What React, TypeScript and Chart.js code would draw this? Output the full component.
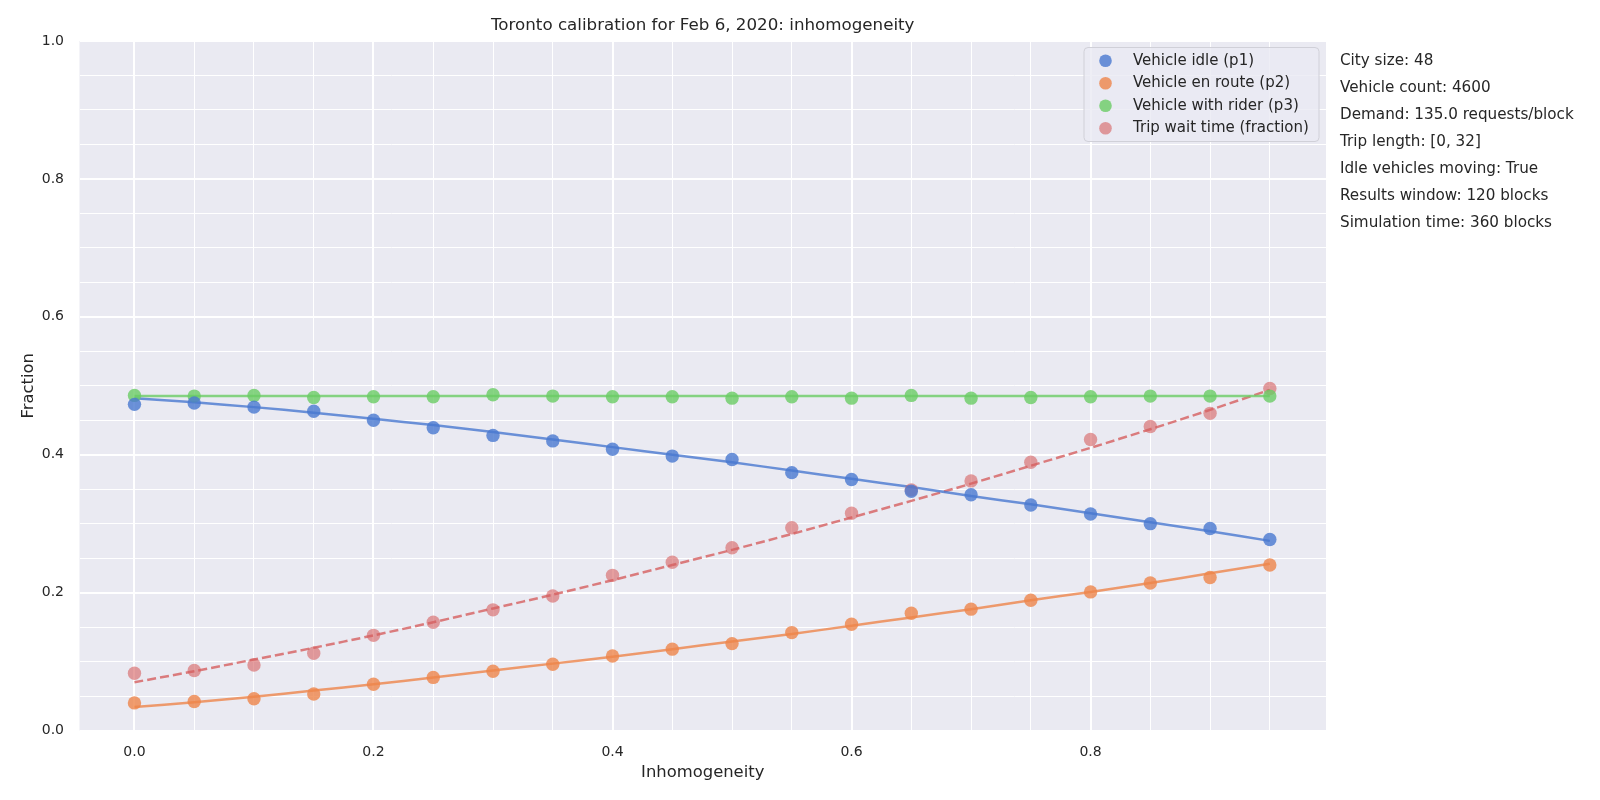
import { useEffect, useRef } from 'react';
import { Chart, registerables } from 'chart.js';

Chart.register(...registerables);

const FONT = '"DejaVu Sans", sans-serif';

// inhomogeneity values (x)
const inhomogeneity = [0, 0.05, 0.1, 0.15, 0.2, 0.25, 0.3, 0.35, 0.4, 0.45, 0.5, 0.55, 0.6, 0.65, 0.7, 0.75, 0.8, 0.85, 0.9, 0.95];

// measured fractions
const idleFrac = [0.473, 0.475, 0.469, 0.463, 0.450, 0.439, 0.428, 0.420, 0.408, 0.398, 0.393, 0.374, 0.364, 0.347, 0.342, 0.327, 0.314, 0.300, 0.293, 0.277];
const enRouteFrac = [0.040, 0.042, 0.046, 0.053, 0.067, 0.077, 0.086, 0.096, 0.108, 0.118, 0.126, 0.142, 0.154, 0.170, 0.176, 0.189, 0.201, 0.214, 0.222, 0.240];
const withRiderFrac = [0.486, 0.485, 0.486, 0.483, 0.484, 0.484, 0.487, 0.485, 0.484, 0.484, 0.482, 0.484, 0.482, 0.486, 0.482, 0.483, 0.484, 0.485, 0.485, 0.485];
const waitFrac = [0.083, 0.087, 0.095, 0.112, 0.138, 0.157, 0.175, 0.195, 0.225, 0.244, 0.265, 0.294, 0.315, 0.349, 0.362, 0.389, 0.422, 0.441, 0.460, 0.496];

// fitted curves
const idleFit = [0.482, 0.476, 0.469, 0.461, 0.452, 0.443, 0.433, 0.422, 0.411, 0.400, 0.389, 0.377, 0.365, 0.353, 0.340, 0.328, 0.315, 0.302, 0.289, 0.275];
const enRouteFit = [0.034, 0.041, 0.049, 0.058, 0.067, 0.077, 0.087, 0.097, 0.107, 0.118, 0.129, 0.140, 0.152, 0.164, 0.176, 0.189, 0.201, 0.214, 0.228, 0.242];
const withRiderFit = [0.485, 0.485, 0.485, 0.485, 0.485, 0.485, 0.485, 0.485, 0.485, 0.485, 0.485, 0.485, 0.485, 0.485, 0.485, 0.485, 0.485, 0.485, 0.485, 0.485];
const waitFit = [0.070, 0.086, 0.103, 0.120, 0.138, 0.157, 0.177, 0.197, 0.218, 0.240, 0.262, 0.285, 0.309, 0.333, 0.358, 0.384, 0.410, 0.437, 0.465, 0.494];

const xTicks = [0, 0.05, 0.1, 0.15, 0.2, 0.25, 0.3, 0.35, 0.4, 0.45, 0.5, 0.55, 0.6, 0.65, 0.7, 0.75, 0.8, 0.85, 0.9, 0.95];
const yTicks = [0, 0.05, 0.1, 0.15, 0.2, 0.25, 0.3, 0.35, 0.4, 0.45, 0.5, 0.55, 0.6, 0.65, 0.7, 0.75, 0.8, 0.85, 0.9, 0.95, 1];
const majorTicks = [0, 0.2, 0.4, 0.6, 0.8, 1];

const seriesNames = ['Vehicle idle (p1)', 'Vehicle en route (p2)', 'Vehicle with rider (p3)', 'Trip wait time (fraction)'];
const seriesColors = ['rgba(72,120,208,0.8)', 'rgba(238,133,74,0.8)', 'rgba(106,204,100,0.8)', 'rgba(214,95,95,0.6)'];
const lineColors = ['rgba(72,120,208,0.8)', 'rgba(238,133,74,0.8)', 'rgba(106,204,100,0.8)', 'rgba(214,95,95,0.8)'];

const chartTitle = 'Toronto calibration for Feb 6, 2020: inhomogeneity';
const notes = [
  'City size: 48',
  'Vehicle count: 4600',
  'Demand: 135.0 requests/block',
  'Trip length: [0, 32]',
  'Idle vehicles moving: True',
  'Results window: 120 blocks',
  'Simulation time: 360 blocks',
];

const isMajor = (v: number) => majorTicks.some((m) => Math.abs(m - v) < 1e-6);
const pts = (ys: number[]) => inhomogeneity.map((x, i) => ({ x, y: ys[i] }));

const decorations = {
  id: 'decorations',
  beforeDraw(chart: any) {
    const { ctx, chartArea: a } = chart;
    ctx.save();
    ctx.fillStyle = '#eaeaf2';
    ctx.fillRect(a.left, a.top, a.right - a.left, a.bottom - a.top);
    ctx.restore();
  },
  afterDraw(chart: any) {
    const { ctx, chartArea: a } = chart;
    ctx.save();
    // title
    ctx.fillStyle = '#262626';
    ctx.font = `16.7px ${FONT}`;
    ctx.textAlign = 'center';
    ctx.textBaseline = 'middle';
    ctx.fillText(chartTitle, (a.left + a.right) / 2, 25.5);

    // legend
    const bx = 1084, by = 47.5, bw = 235, bh = 94;
    ctx.beginPath();
    ctx.roundRect(bx, by, bw, bh, 4);
    ctx.fillStyle = 'rgba(234,234,242,0.8)';
    ctx.fill();
    ctx.strokeStyle = '#d0d0d8';
    ctx.lineWidth = 1;
    ctx.stroke();
    ctx.font = `15px ${FONT}`;
    ctx.textAlign = 'left';
    seriesNames.forEach((name, i) => {
      const y = 60.7 + i * 22.5;
      ctx.beginPath();
      ctx.arc(1105.5, y, 6.3, 0, Math.PI * 2);
      ctx.fillStyle = seriesColors[i];
      ctx.fill();
      ctx.fillStyle = '#262626';
      ctx.fillText(name, 1133, y);
    });

    // parameter notes
    ctx.font = `15.2px ${FONT}`;
    notes.forEach((t, i) => {
      ctx.fillText(t, 1340, 61.5 + i * 26.9);
    });
    ctx.restore();
  },
};

export default function App() {
  const canvasRef = useRef<HTMLCanvasElement | null>(null);
  const chartRef = useRef<Chart | null>(null);

  useEffect(() => {
    document.body.style.margin = '0';
    const canvas = canvasRef.current;
    if (!canvas) return;

    const scatterSets = [idleFrac, enRouteFrac, withRiderFrac, waitFrac].map((ys, i) => ({
      label: seriesNames[i],
      data: pts(ys),
      showLine: false,
      pointRadius: 6.7,
      pointHoverRadius: 6.7,
      pointBackgroundColor: seriesColors[i],
      pointBorderWidth: 0,
      order: 1,
    }));
    const fitSets = [idleFit, enRouteFit, withRiderFit, waitFit].map((ys, i) => ({
      label: seriesNames[i] + ' fit',
      data: pts(ys),
      showLine: true,
      pointRadius: 0,
      borderColor: lineColors[i],
      borderWidth: 2.5,
      borderDash: i === 3 ? [9, 4] : [],
      tension: 0.3,
      order: 2,
    }));

    chartRef.current = new Chart(canvas, {
      type: 'scatter',
      data: { datasets: [...fitSets, ...scatterSets] as any },
      plugins: [decorations],
      options: {
        animation: false,
        responsive: true,
        maintainAspectRatio: false,
        devicePixelRatio: 1,
        layout: { padding: { left: 0, right: 274, top: 41, bottom: 0 } },
        plugins: { legend: { display: false }, tooltip: { enabled: false }, title: { display: false } },
        scales: {
          x: {
            type: 'linear',
            min: -0.046,
            max: 0.997,
            afterBuildTicks: (s: any) => { s.ticks = xTicks.map((value) => ({ value })); },
            afterFit: (s: any) => { s.height = 69.5; },
            border: { display: false },
            grid: {
              color: '#ffffff',
              lineWidth: (c: any) => (c.tick && isMajor(c.tick.value) ? 2 : 1),
              drawTicks: false,
            },
            ticks: {
              autoSkip: false,
              maxRotation: 0,
              padding: 13,
              color: '#262626',
              font: { family: FONT, size: 14 },
              callback: (v: any) => (isMajor(Number(v)) ? Number(v).toFixed(1) : ''),
            },
            title: {
              display: true,
              text: 'Inhomogeneity',
              color: '#262626',
              font: { family: FONT, size: 16.4 },
              padding: { top: 0, bottom: 17 },
            },
          },
          y: {
            type: 'linear',
            min: 0,
            max: 1,
            afterBuildTicks: (s: any) => { s.ticks = yTicks.map((value) => ({ value })); },
            afterFit: (s: any) => { s.width = 79.5; },
            border: { display: false },
            grid: {
              color: '#ffffff',
              lineWidth: (c: any) => (c.tick && isMajor(c.tick.value) ? 2 : 1),
              drawTicks: false,
            },
            ticks: {
              autoSkip: false,
              padding: 15.5,
              color: '#262626',
              font: { family: FONT, size: 14 },
              callback: (v: any) => (isMajor(Number(v)) ? Number(v).toFixed(1) : ''),
            },
            title: {
              display: true,
              text: 'Fraction',
              color: '#262626',
              font: { family: FONT, size: 16.4 },
              padding: { top: 19, bottom: 0 },
            },
          },
        },
      },
    });

    return () => {
      chartRef.current?.destroy();
      chartRef.current = null;
    };
  }, []);

  return (
    <div style={{ position: 'relative', width: 1600, height: 800 }}>
      <canvas ref={canvasRef} aria-label={chartTitle} role="img" />
    </div>
  );
}
